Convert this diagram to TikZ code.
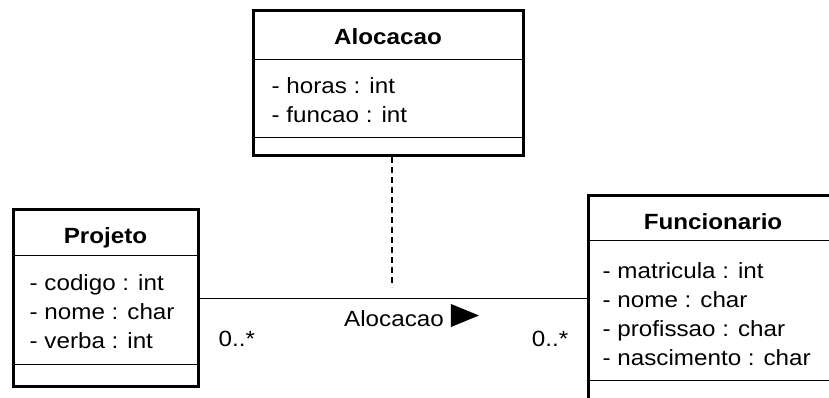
\documentclass[tikz,border=0pt]{standalone}
\usepackage{fontspec}
\setmainfont{Liberation Sans}[FakeStretch=1.1]
\usetikzlibrary{positioning,calc}
\tikzset{
  classbox/.style={draw, line width=3pt, inner sep=0pt},
  sepln/.style={line width=1.6pt},
  assocln/.style={line width=1.6pt},
  assocdash/.style={line width=1.6pt, dash pattern=on 6pt off 4pt},
  umltxt/.style={font=\fontsize{22}{29}\selectfont, inner sep=0pt},
  classname/.style={umltxt, font=\bfseries\fontsize{22}{29}\selectfont, anchor=base},
  attrs/.style={umltxt, align=left, anchor=north west},
}
\newcommand{\classseps}[3]{%
  \draw[sepln] ($(#1.north west)+(0,-#2)$) -- ($(#1.north east)+(0,-#2)$);
  \draw[sepln] ($(#1.south west)+(0,#3)$) -- ($(#1.south east)+(0,#3)$);
}

\begin{document}
\begin{tikzpicture}[x=1pt, y=1pt]
  \useasboundingbox (0,0) rectangle (829,398);
  \clip (0,0) rectangle (829,398);
  % Association class
  \node[classbox, minimum width=270, minimum height=145] (aloc) at (388,314.5) {};
  \classseps{aloc}{50}{20}
  \node[classname] (alocname) at ($(aloc.north)+(0,-35)$) {Alocacao};
  \node[attrs] (alocattr) at ($(aloc.north west)+(20,-68)$) {- horas : int\\- funcao : int};
  % Projeto
  \node[classbox, minimum width=185, minimum height=177] (proj) at (105.5,99.5) {};
  \classseps{proj}{47}{24}
  \node[classname] (projname) at ($(proj.north)+(0,-35)$) {Projeto};
  \node[attrs] (projattr) at ($(proj.north west)+(18,-66)$) {- codigo : int\\- nome : char\\- verba : int};
  % Funcionario (runs off the right edge)
  \node[classbox, minimum width=250, minimum height=205] (func) at (713,99.5) {};
  \classseps{func}{46}{22}
  \node[classname] (funcname) at ($(func.north)+(0,-35)$) {Funcionario};
  \node[attrs] (funcattr) at ($(func.north west)+(16,-68)$) {- matricula : int\\- nome : char\\- profissao : char\\- nascimento : char};
  % Association and its class link
  \draw[assocln] (proj.east) -- (func.west);
  \draw[assocdash, shorten >=11pt] ($(aloc.south)+(4,0)$) -- ($(aloc.south |- proj.east)+(4,0)$);
  \node[umltxt, anchor=base] (assocname) at (394,71) {Alocacao};
  \fill (assocname.base east) ++(7,0) -- ++(0,23) -- ++(28,-11.5) -- cycle;
  % Multiplicities
  \node[umltxt, anchor=base west] (multproj) at ($(proj.east)+(19,-48.5)$) {0..*};
  \node[umltxt, anchor=base east] (multfunc) at ($(func.west)+(-18,-48.5)$) {0..*};
\end{tikzpicture}
\end{document}
